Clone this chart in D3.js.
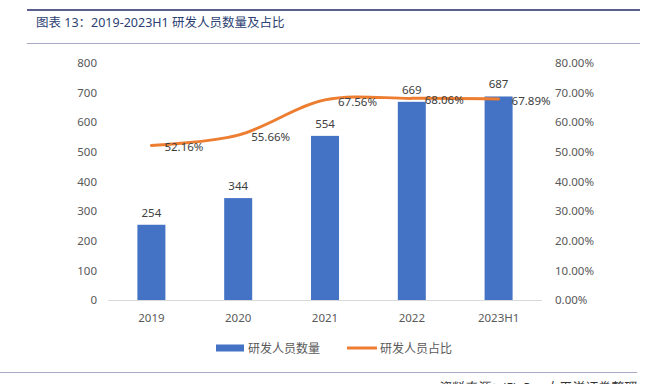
<!DOCTYPE html>
<meta charset="utf-8">
<style>
body{margin:0;background:#fff;}
text{font-family:"Noto Sans","Noto Sans CJK SC",sans-serif;}
</style>
<body>
<script src="https://cdn.jsdelivr.net/npm/d3@7"></script>
<script>
var years=["2019","2020","2021","2022","2023H1"];
var staff=[254,344,554,669,687];
var ratio=[52.16,55.66,67.56,68.06,67.89];
var leftTicks=[0,100,200,300,400,500,600,700,800];
var rightTicks=[0,10,20,30,40,50,60,70,80];

var blue="#4472C4", orange="#ED7D31", grey="#595959";
var svg=d3.select("body").append("svg").attr("width",650).attr("height",384);

// header
svg.append("line").attr("x1",27).attr("x2",640).attr("y1",10).attr("y2",10)
  .attr("stroke","#5b5f8f").attr("stroke-width",2);
svg.append("text").attr("x",36).attr("y",27).attr("font-size",12.5)
  .attr("fill","#2c3f73").attr("font-family","'Noto Sans CJK SC'")
  .text("图表 13：2019-2023H1 研发人员数量及占比");
svg.append("line").attr("x1",27).attr("x2",640).attr("y1",43.5).attr("y2",43.5)
  .attr("stroke","#a7a9c6").attr("stroke-width",1);

var x=d3.scaleBand().domain(years).range([108,542]);
var y=d3.scaleLinear().domain([0,800]).range([300,63]);
var y2=d3.scaleLinear().domain([0,80]).range([300,63]);

svg.append("line").attr("x1",108).attr("x2",542).attr("y1",y(0)+0.5).attr("y2",y(0)+0.5)
  .attr("stroke","#d9d9d9");

var la=svg.append("g").attr("transform","translate(97,0)")
  .call(d3.axisLeft(y).tickValues(leftTicks).tickSize(0).tickPadding(0));
var ra=svg.append("g").attr("transform","translate(555,0)")
  .call(d3.axisRight(y2).tickValues(rightTicks).tickSize(0).tickPadding(0)
    .tickFormat(d=>d.toFixed(2)+"%"));
var xa=svg.append("g").attr("transform","translate(0,"+(y(0)+10)+")")
  .call(d3.axisBottom(x).tickSize(0).tickPadding(4));
[la,ra,xa].forEach(a=>{
  a.select(".domain").remove();
  a.selectAll("text").attr("fill",grey).attr("font-size",11.5)
    .attr("font-family","'Open Sans','Noto Sans',sans-serif");
});

var bw=28;
svg.selectAll(".bar").data(staff).enter().append("rect")
  .attr("x",(d,i)=>x(years[i])+x.bandwidth()/2-bw/2)
  .attr("width",bw)
  .attr("y",d=>y(d))
  .attr("height",d=>y(0)-y(d))
  .attr("fill",blue);

svg.selectAll(".blab").data(staff).enter().append("text")
  .attr("x",(d,i)=>x(years[i])+x.bandwidth()/2)
  .attr("y",d=>y(d)-8)
  .attr("text-anchor","middle").attr("font-size",11.5).attr("fill","#404040")
  .attr("font-family","'Open Sans','Noto Sans',sans-serif")
  .text(d=>d);

var line=d3.line()
  .x((d,i)=>x(years[i])+x.bandwidth()/2)
  .y(d=>y2(d))
  .curve(d3.curveCatmullRom.alpha(0.5));
svg.append("path").datum(ratio).attr("d",line)
  .attr("fill","none").attr("stroke",orange).attr("stroke-width",3)
  .attr("stroke-linecap","round");

svg.selectAll(".llab").data(ratio).enter().append("text")
  .attr("x",(d,i)=>x(years[i])+x.bandwidth()/2+13)
  .attr("y",d=>y2(d)+6)
  .attr("font-size",11.5).attr("fill","#404040")
  .attr("font-family","'Open Sans','Noto Sans',sans-serif")
  .text(d=>d.toFixed(2)+"%");

// legend
var lg=svg.append("g").attr("transform","translate(0,348)");
lg.append("rect").attr("x",216).attr("y",-3.5).attr("width",28).attr("height",7).attr("fill",blue);
lg.append("text").attr("x",248).attr("y",4.5).attr("font-size",12).attr("fill",grey)
  .attr("font-family","'Noto Sans CJK SC'").text("研发人员数量");
lg.append("line").attr("x1",347).attr("x2",377).attr("y1",0).attr("y2",0)
  .attr("stroke",orange).attr("stroke-width",3);
lg.append("text").attr("x",380).attr("y",4.5).attr("font-size",12).attr("fill",grey)
  .attr("font-family","'Noto Sans CJK SC'").text("研发人员占比");

// footer
svg.append("line").attr("x1",0).attr("x2",637).attr("y1",372.5).attr("y2",372.5)
  .attr("stroke","#a7a9c6").attr("stroke-width",1);
svg.append("text").attr("x",635).attr("y",392).attr("text-anchor","end")
  .attr("font-size",13).attr("font-style","italic").attr("fill","#333")
  .attr("font-family","'Noto Sans CJK SC'")
  .text("资料来源：iFinD，太平洋证券整理");
</script>
</body>
</html>
